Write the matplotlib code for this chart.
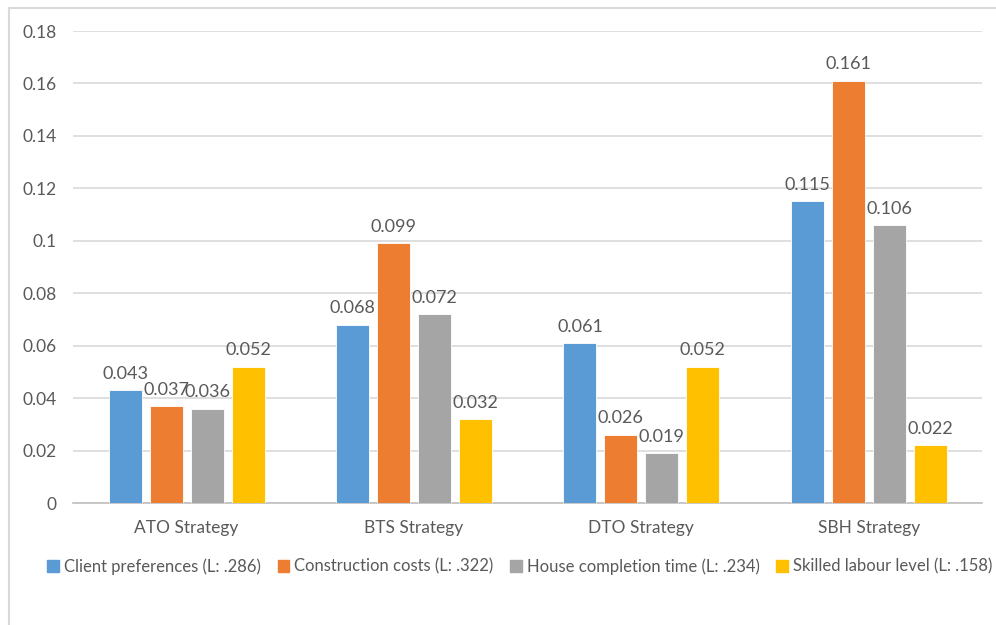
import matplotlib.pyplot as plt
import numpy as np
from matplotlib.patches import Rectangle
from matplotlib.lines import Line2D

plt.rcParams['font.family'] = ['Lato', 'DejaVu Sans']

strategies = ['ATO Strategy', 'BTS Strategy', 'DTO Strategy', 'SBH Strategy']
series_names = ['Client preferences (L: .286)', 'Construction costs (L: .322)',
                'House completion time (L: .234)', 'Skilled labour level (L: .158)']
client_pref = [0.043, 0.068, 0.061, 0.115]
construction_costs = [0.037, 0.099, 0.026, 0.161]
completion_time = [0.036, 0.072, 0.019, 0.106]
skilled_labour = [0.052, 0.032, 0.052, 0.022]
y_ticks = [0, 0.02, 0.04, 0.06, 0.08, 0.1, 0.12, 0.14, 0.16, 0.18]
y_tick_labels = ['0', '0.02', '0.04', '0.06', '0.08', '0.1', '0.12', '0.14', '0.16', '0.18']

colors = ['#5B9BD5', '#ED7D31', '#A5A5A5', '#FFC000']
text_color = '#595959'

fig = plt.figure(figsize=(9.96, 6.25), dpi=100)
ax = fig.add_axes([0.0733, 0.1952, 0.913, 0.7552])

x = np.arange(len(strategies))
width = 0.145
offsets = [-0.27, -0.09, 0.09, 0.27]
all_series = [client_pref, construction_costs, completion_time, skilled_labour]

for vals, off, col, name in zip(all_series, offsets, colors, series_names):
    bars = ax.bar(x + off, vals, width, color=col, edgecolor='white', linewidth=0.6,
                  label=name, zorder=3)
    for b, v in zip(bars, vals):
        ax.annotate(f'{v:.3f}', (b.get_x() + b.get_width() / 2, v),
                    xytext=(0, 6), textcoords='offset points',
                    ha='center', va='bottom', fontsize=13, color=text_color)

ax.set_xlim(-0.5, 3.5)
ax.set_ylim(0, 0.18)
ax.set_yticks(y_ticks)
ax.set_yticklabels(y_tick_labels)
ax.set_xticks(x)
ax.set_xticklabels(strategies)
ax.tick_params(length=0, labelsize=12.5, colors=text_color)
ax.tick_params(axis='x', pad=12)
ax.tick_params(axis='y', pad=12)
ax.grid(axis='y', color='#D9D9D9', linewidth=1.2, zorder=0)
for side in ['top', 'right', 'left']:
    ax.spines[side].set_visible(False)
ax.spines['bottom'].set_color('#BFBFBF')
ax.spines['bottom'].set_linewidth(1.2)

handles = [Rectangle((0, 0), 1, 1, color=c) for c in colors]
fig.legend(handles, series_names, loc='center', bbox_to_anchor=(0.522, 0.094),
           ncol=4, frameon=False, fontsize=12, labelcolor=text_color,
           handlelength=0.7, handleheight=0.7, handletextpad=0.3, columnspacing=1.0)

# outer chart border, open on the right and bottom
fig.add_artist(Line2D([0.0095, 1.0], [0.987, 0.987], color='#D9D9D9', linewidth=1.5))
fig.add_artist(Line2D([0.0095, 0.0095], [0.0, 0.987], color='#D9D9D9', linewidth=1.5))

fig.savefig('out.png', dpi=100)
